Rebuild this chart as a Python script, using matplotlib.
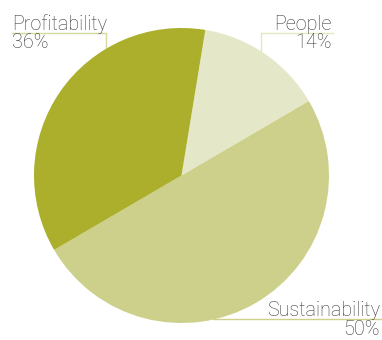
import matplotlib
matplotlib.use("Agg")
import matplotlib.pyplot as plt

categories = ["People", "Sustainability", "Profitability"]
values = [14, 50, 36]
colors = ["#e5e8c8", "#cdd08a", "#abaf2c"]

W, H = 382, 340
fig = plt.figure(figsize=(W / 100, H / 100), dpi=100)

cx, cy, r = 181.5, 175.5, 147.5
ax = fig.add_axes([(cx - r) / W, (H - cy - r) / H, 2 * r / W, 2 * r / H])
ax.pie(values, colors=colors, startangle=80.7, counterclock=False,
       radius=1, wedgeprops=dict(linewidth=0))
ax.set_xlim(-1, 1)
ax.set_ylim(-1, 1)
ax.set_aspect("equal")
ax.axis("off")

ov = fig.add_axes([0, 0, 1, 1], zorder=-1)
ov.set_xlim(0, W)
ov.set_ylim(H, 0)
ov.axis("off")
ov.patch.set_alpha(0)

font = dict(family=["Roboto", "DejaVu Sans"], fontweight="light", fontsize=14.2,
            color="#383838")

# leader lines
ov.plot([12, 106, 106], [32.5, 32.5, 50], color="#d6d99e", lw=1)
ov.plot([261, 261, 333], [51, 32.5, 32.5], color="#e3e6c0", lw=1)
ov.plot([213, 381], [319, 319], color="#cdd08a", lw=1)

ov.text(12, 29.5, f"{categories[2]}", ha="left", va="baseline", **font)
ov.text(12, 48, f"{values[2]}%", ha="left", va="baseline", **font)
ov.text(332, 29.5, f"{categories[0]}", ha="right", va="baseline", **font)
ov.text(332, 48, f"{values[0]}%", ha="right", va="baseline", **font)
ov.text(380, 316, f"{categories[1]}", ha="right", va="baseline", **font)
ov.text(380, 335, f"{values[1]}%", ha="right", va="baseline", **font)

fig.savefig("out.png", dpi=100)
